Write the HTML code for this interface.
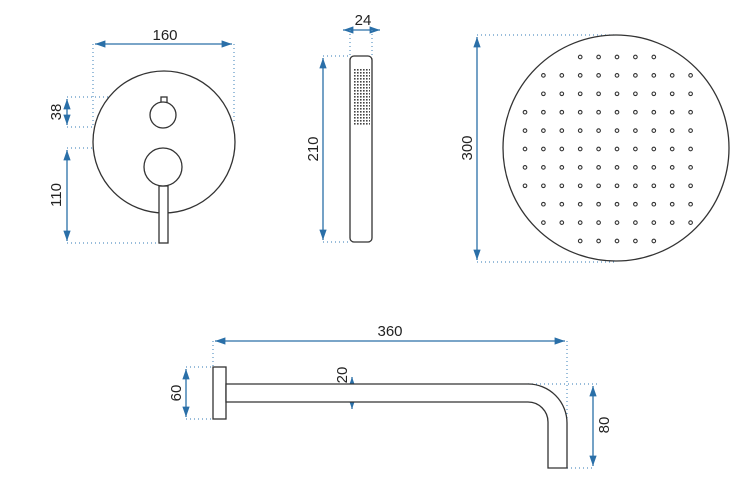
<!DOCTYPE html>
<html><head><style>body{margin:0;background:#fff}svg{display:block}text{font-family:"Liberation Sans",sans-serif;font-size:15px;fill:#222}</style></head><body>
<svg width="750" height="490" viewBox="0 0 750 490" xmlns="http://www.w3.org/2000/svg">
<defs>
<marker id="a" viewBox="0 0 10 10" refX="10" refY="5" markerWidth="8" markerHeight="8" orient="auto-start-reverse"><path d="M0,1.5 L10,5 L0,8.5 z" fill="#2a6fa8"/></marker>
<pattern id="g" width="3" height="3" patternUnits="userSpaceOnUse"><rect width="1.6" height="1.6" fill="#444"/></pattern>
</defs>
<g stroke="#2a6fa8" stroke-width="1.3" fill="none">
<line x1="95" y1="44" x2="232" y2="44" marker-start="url(#a)" marker-end="url(#a)"/>
<line x1="67" y1="99" x2="67" y2="125" marker-start="url(#a)" marker-end="url(#a)"/>
<line x1="67" y1="150" x2="67" y2="241" marker-start="url(#a)" marker-end="url(#a)"/>
<line x1="343" y1="30" x2="380" y2="30" marker-start="url(#a)" marker-end="url(#a)"/>
<line x1="323" y1="58" x2="323" y2="240" marker-start="url(#a)" marker-end="url(#a)"/>
<line x1="477" y1="37" x2="477" y2="260" marker-start="url(#a)" marker-end="url(#a)"/>
<line x1="215" y1="341" x2="565" y2="341" marker-start="url(#a)" marker-end="url(#a)"/>
<line x1="186" y1="369" x2="186" y2="417" marker-start="url(#a)" marker-end="url(#a)"/>
<line x1="352" y1="377" x2="352" y2="409" marker-start="url(#a)" marker-end="url(#a)"/>
<line x1="593" y1="386" x2="593" y2="466" marker-start="url(#a)" marker-end="url(#a)"/>
</g>
<g stroke="#5b95c4" stroke-width="1.2" stroke-dasharray="1 3" fill="none">
<path d="M93 44V125M234 44V122M67 97H163M67 127H163M67 148H163M67 243H160"/>
<path d="M350 30V56M372 30V56M323 56H350M323 242H350"/>
<path d="M477 35H616M477 262H616"/>
<path d="M213 341V367M567 341V420M186 367H213M186 419H213M528 384H598M567 468H593"/>
</g>
<g stroke="#333" stroke-width="1.3" fill="#fff">
<circle cx="164" cy="142" r="71"/>
<rect x="161" y="97" width="6" height="6"/>
<circle cx="163" cy="115" r="13"/>
<rect x="159" y="186" width="9" height="57"/>
<circle cx="163" cy="167" r="19"/>
<rect x="350" y="56" width="22" height="186" rx="4"/>
<circle cx="616" cy="148" r="113"/>
<rect x="213" y="367" width="13" height="52"/>
<path d="M226 384H528A39 39 0 0 1 567 423V468H548V422A20 20 0 0 0 528 402H226Z"/>
</g>
<rect x="353" y="68" width="17" height="57" fill="url(#g)"/>
<g id="dots" stroke="#333" stroke-width="1.1" fill="none"></g>
<text x="165" y="40" text-anchor="middle">160</text>
<text transform="translate(61,112) rotate(-90)" text-anchor="middle">38</text>
<text transform="translate(61,195) rotate(-90)" text-anchor="middle">110</text>
<text x="363" y="25" text-anchor="middle">24</text>
<text transform="translate(318,149) rotate(-90)" text-anchor="middle">210</text>
<text transform="translate(472,148) rotate(-90)" text-anchor="middle">300</text>
<text x="390" y="336" text-anchor="middle">360</text>
<text transform="translate(181,393) rotate(-90)" text-anchor="middle">60</text>
<text transform="translate(347,375) rotate(-90)" text-anchor="middle">20</text>
<text transform="translate(609,425) rotate(-90)" text-anchor="middle">80</text>
</svg>
<script>
var g=document.getElementById('dots'),rows=[[3,7],[1,9],[1,9],[0,9],[0,9],[0,9],[0,9],[0,9],[1,9],[1,9],[3,7]],s='';
rows.forEach(function(r,i){for(var c=r[0];c<=r[1];c++){s+='<circle cx="'+(525+c*18.4)+'" cy="'+(57+i*18.4)+'" r="1.8"/>';}});
g.innerHTML=s;
</script>
</body></html>
